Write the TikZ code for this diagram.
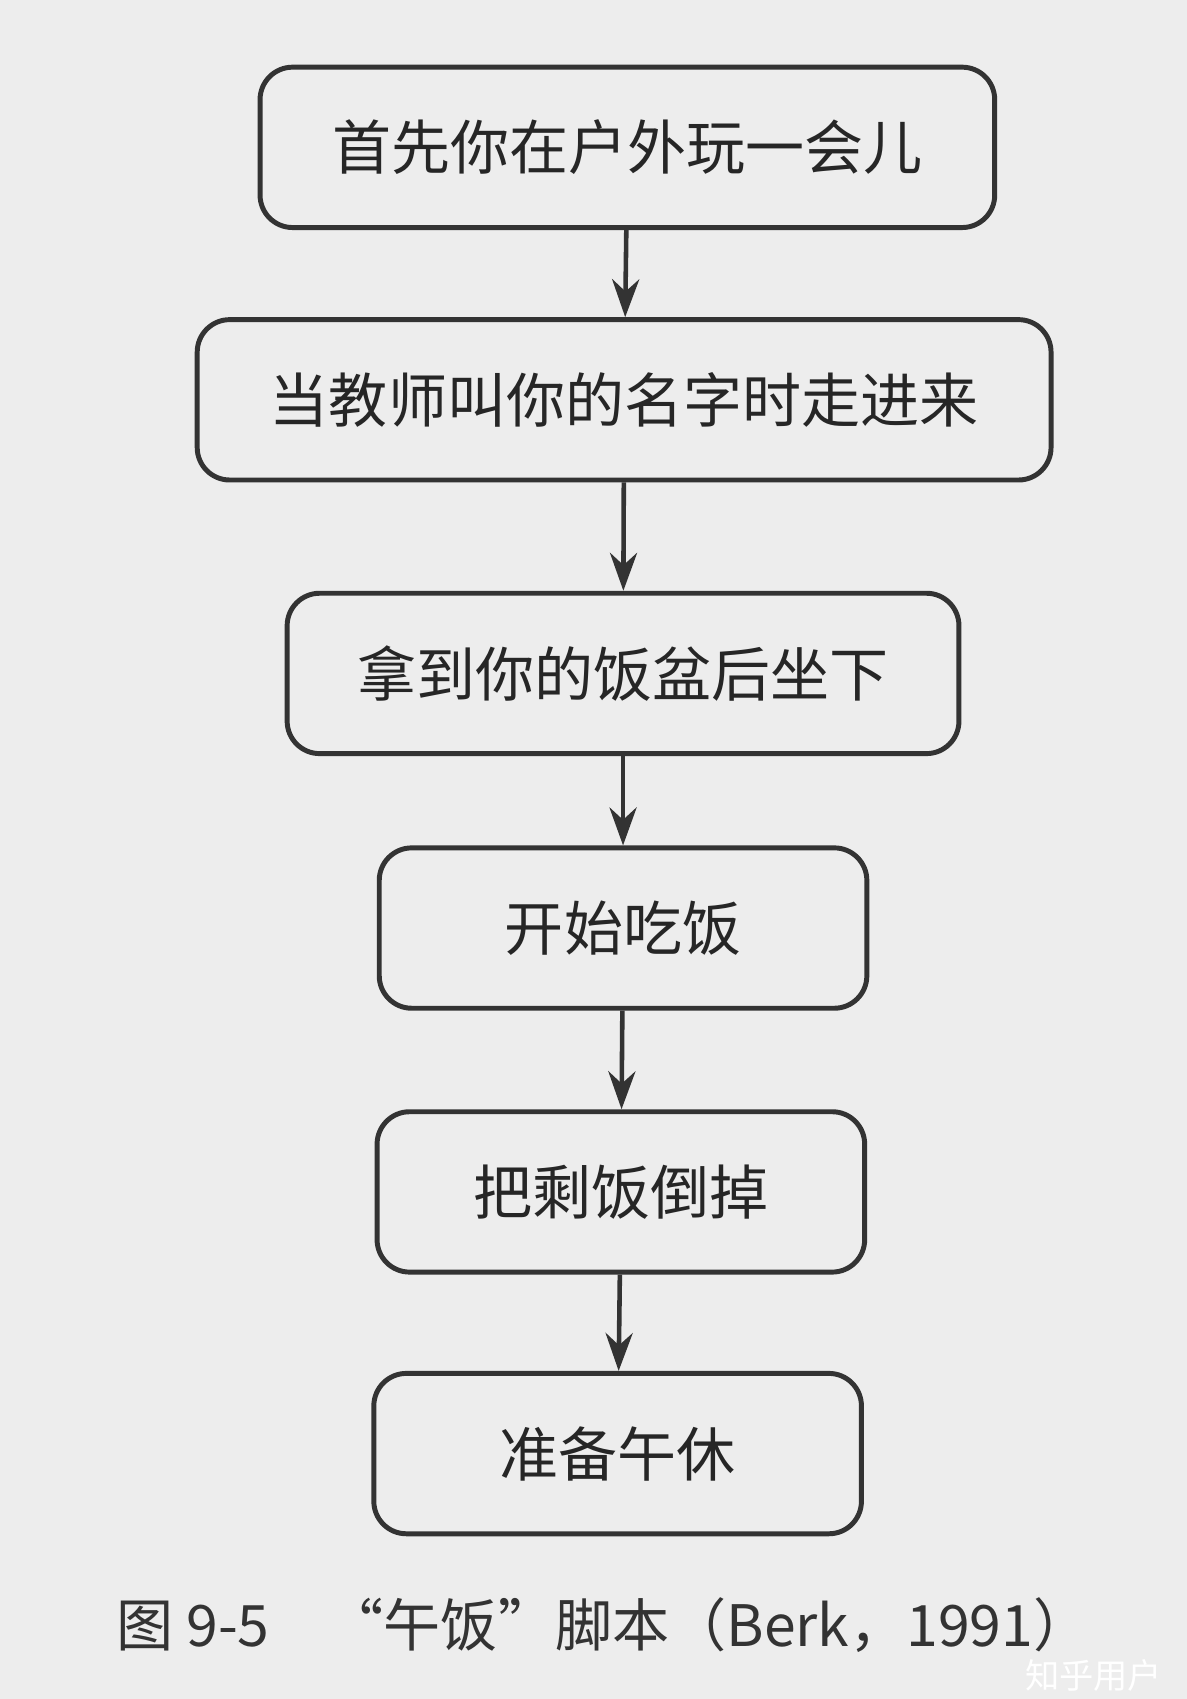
\documentclass[tikz,border=0pt]{standalone}
\usepackage{fontspec}
\setmainfont{Noto Sans CJK SC}
\usetikzlibrary{arrows.meta}
\tikzset{
  step box/.style={
    draw=black!80,
    line width=1.3pt,
    rounded corners=0.3cm,
    minimum height=1.48cm,
    font=\fontsize{15.5pt}{18pt}\selectfont,
    text=black!85,
  },
  step arrow/.style={
    -{Stealth[length=0.35cm,width=0.25cm]},
    line width=1.2pt,
    draw=black!80,
  }
}
\begin{document}
\begin{tikzpicture}
\fill[black!7] (0,0) rectangle (10.95,-15.68);
\useasboundingbox (0,0) rectangle (10.95,-15.68);

\node[step box, minimum width=6.78cm] (play) at (5.79,-1.36) {首先你在户外玩一会儿};
\node[step box, minimum width=7.88cm] (enter) at (5.76,-3.69) {当教师叫你的名字时走进来};
\node[step box, minimum width=6.20cm] (sit) at (5.75,-6.215) {拿到你的饭盆后坐下};
\node[step box, minimum width=4.50cm] (eat) at (5.75,-8.565) {开始吃饭};
\node[step box, minimum width=4.50cm] (dump) at (5.73,-11.00) {把剩饭倒掉};
\node[step box, minimum width=4.50cm] (nap) at (5.70,-13.415) {准备午休};

% connectors
\draw[step arrow] (play) -- (enter);
\draw[step arrow] (enter) -- (sit);
\draw[step arrow] (sit) -- (eat);
\draw[step arrow] (eat) -- (dump);
\draw[step arrow] (dump) -- (nap);

\node[anchor=west, font=\fontsize{15pt}{18pt}\selectfont, text=black!80] (caption) at (0.95,-15.0)
  {图 9-5\quad “午饭”脚本（Berk，1991）};
\node[anchor=east, font=\fontsize{9pt}{11pt}\selectfont, text=white] (mark) at (10.85,-15.46) {知乎用户};
\end{tikzpicture}
\end{document}
